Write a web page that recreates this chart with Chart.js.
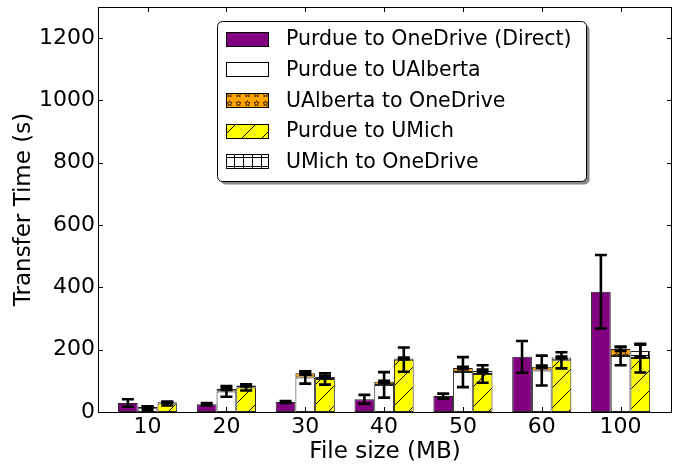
<!DOCTYPE html>
<html><head><meta charset="utf-8">
<script src="https://cdn.jsdelivr.net/npm/chart.js@4/dist/chart.umd.min.js"></script>
<style>html,body{margin:0;padding:0;background:#fff}</style>
</head><body>
<canvas id="c" width="681" height="468"></canvas>
<script>
const categories = ['10','20','30','40','50','60','100'];
const yTicks = [0,200,400,600,800,1000,1200];
const seriesLabels = ['Purdue to OneDrive (Direct)','Purdue to UAlberta','UAlberta to OneDrive','Purdue to UMich','UMich to OneDrive'];
const purdueOneDrive    = [29, 25, 32, 41, 51, 177, 386];
const purdueOneDriveErr = [12, 4, 3, 14, 8, 51, 118];
const purdueUAlberta    = [12, 66, 111, 87, 128, 133, 180];
const purdueUAlbertaErr = [6, 17, 20, 41, 48, 48, 30];
const ualbertaOneDrive    = [4, 8, 13, 10, 13, 12, 22];
const ualbertaOneDriveErr = [2, 3, 4, 3, 4, 4, 6];
const purdueUMich    = [27, 79, 106, 168, 122, 166, 173];
const purdueUMichErr = [6, 10, 18, 39, 28, 26, 46];
const umichOneDrive    = [4, 6, 6, 4, 10, 9, 23];
const umichOneDriveErr = [2, 3, 3, 3, 4, 3, 20];

const FONT = 'DejaVu Sans';

function makePattern(size, bg, draw){
  const c = document.createElement('canvas'); c.width = size; c.height = size;
  const x = c.getContext('2d');
  x.fillStyle = bg; x.fillRect(0,0,size,size);
  draw(x, size);
  return x.createPattern(c, 'repeat');
}
const diagPattern = makePattern(20, '#ffff00', (x,s)=>{
  x.strokeStyle = '#000'; x.lineWidth = 1;
  x.beginPath();
  x.moveTo(-2, s+2); x.lineTo(s+2, -2);
  x.moveTo(-2, 2); x.lineTo(2, -2);
  x.moveTo(s-2, s+2); x.lineTo(s+2, s-2);
  x.stroke();
});
const gridPattern = makePattern(9, '#ffffff', (x,s)=>{
  x.strokeStyle = '#000'; x.lineWidth = 1;
  x.beginPath();
  x.moveTo(0.5, 0); x.lineTo(0.5, s);
  x.moveTo(0, 4.5); x.lineTo(s, 4.5);
  x.stroke();
});
const starPattern = makePattern(9, '#ffa500', (x,s)=>{
  x.strokeStyle = '#000'; x.lineWidth = 0.7;
  const cx = s/2, cy = s/2, R = 2.8, r = 1.2;
  x.beginPath();
  for (let k=0;k<10;k++){
    const a = -Math.PI/2 + k*Math.PI/5;
    const rad = k%2===0 ? R : r;
    const px = cx + rad*Math.cos(a), py = cy + rad*Math.sin(a);
    if (k===0) x.moveTo(px,py); else x.lineTo(px,py);
  }
  x.closePath(); x.stroke();
});

const toXY = arr => arr.map((v,i)=>({x:i, y:v}));
const datasets = [
  {label: seriesLabels[0], data: toXY(purdueOneDrive), err: purdueOneDriveErr, stack:'s1', backgroundColor:'#800080'},
  {label: seriesLabels[1], data: toXY(purdueUAlberta), err: purdueUAlbertaErr, stack:'s2', backgroundColor:'#ffffff'},
  {label: seriesLabels[2], data: toXY(ualbertaOneDrive), err: ualbertaOneDriveErr, stack:'s2', backgroundColor: starPattern},
  {label: seriesLabels[3], data: toXY(purdueUMich), err: purdueUMichErr, stack:'s3', backgroundColor: diagPattern},
  {label: seriesLabels[4], data: toXY(umichOneDrive), err: umichOneDriveErr, stack:'s3', backgroundColor: gridPattern},
].map(d => Object.assign(d, {borderColor:'#222', borderWidth:1, borderSkipped:false, categoryPercentage:0.75, barPercentage:1.0}));

const errorBars = {
  id:'errorBars',
  afterDatasetsDraw(chart){
    const ctx = chart.ctx, ys = chart.scales.y;
    const unit = ys.getPixelForValue(0) - ys.getPixelForValue(1);
    ctx.save();
    ctx.strokeStyle = '#000'; ctx.lineWidth = 2.6; ctx.lineCap = 'butt';
    chart.data.datasets.forEach((ds, di)=>{
      const meta = chart.getDatasetMeta(di);
      meta.data.forEach((el, i)=>{
        const e = ds.err[i] * unit;
        const x = el.x, y = el.y;
        ctx.beginPath();
        ctx.moveTo(x, y-e); ctx.lineTo(x, y+e);
        ctx.moveTo(x-6, y-e); ctx.lineTo(x+6, y-e);
        ctx.moveTo(x-6, y+e); ctx.lineTo(x+6, y+e);
        ctx.stroke();
      });
    });
    ctx.restore();
  }
};

const frameAndLegend = {
  id:'frameAndLegend',
  afterDraw(chart){
    const ctx = chart.ctx, a = chart.chartArea, xs = chart.scales.x, ys = chart.scales.y;
    ctx.save();
    ctx.strokeStyle = '#000'; ctx.lineWidth = 1;
    ctx.strokeRect(Math.round(a.left)+0.5, Math.round(a.top)+0.5, Math.round(a.right-a.left)-1, Math.round(a.bottom-a.top));
    ctx.beginPath();
    yTicks.forEach(v=>{
      const y = Math.round(ys.getPixelForValue(v))+0.5;
      ctx.moveTo(a.left, y); ctx.lineTo(a.left+5, y);
      ctx.moveTo(a.right, y); ctx.lineTo(a.right-5, y);
    });
    categories.forEach((c,i)=>{
      const x = Math.round(xs.getPixelForValue(i))+0.5;
      ctx.moveTo(x, a.bottom); ctx.lineTo(x, a.bottom-5);
      ctx.moveTo(x, a.top); ctx.lineTo(x, a.top+5);
    });
    ctx.stroke();

    // legend
    const L = 217.5, T = 21.5, W = 369, H = 160, R = 5;
    function rr(x,y,w,h,r){ctx.beginPath();ctx.moveTo(x+r,y);ctx.lineTo(x+w-r,y);ctx.arcTo(x+w,y,x+w,y+r,r);ctx.lineTo(x+w,y+h-r);ctx.arcTo(x+w,y+h,x+w-r,y+h,r);ctx.lineTo(x+r,y+h);ctx.arcTo(x,y+h,x,y+h-r,r);ctx.lineTo(x,y+r);ctx.arcTo(x,y,x+r,y,r);ctx.closePath();}
    ctx.fillStyle = '#888';
    rr(L+3, T+3, W, H, R); ctx.fill();
    ctx.fillStyle = '#fff';
    rr(L, T, W, H, R); ctx.fill();
    ctx.strokeStyle = '#000'; ctx.lineWidth = 1; ctx.stroke();
    ctx.font = '20.5px "' + FONT + '"';
    ctx.textBaseline = 'middle'; ctx.textAlign = 'left';
    chart.data.datasets.forEach((ds, i)=>{
      const cy = 39 + i*30.7;
      ctx.fillStyle = ds.backgroundColor;
      ctx.fillRect(226, Math.round(cy-7.5), 43, 15);
      ctx.strokeStyle = '#000'; ctx.lineWidth = 1;
      ctx.strokeRect(226.5, Math.round(cy-7.5)+0.5, 42, 14);
      ctx.fillStyle = '#000';
      ctx.fillText(ds.label, 286, cy+1);
    });
    ctx.restore();
  }
};

new Chart(document.getElementById('c'), {
  type:'bar',
  data:{datasets},
  options:{
    responsive:false, animation:false,
    layout:{padding:{left:0, right:9, top:7, bottom:0}},
    plugins:{legend:{display:false}, tooltip:{enabled:false}},
    scales:{
      x:{
        type:'linear', stacked:true, min:-0.629, max:6.652, offset:false,
        afterBuildTicks: s => { s.ticks = categories.map((c,i)=>({value:i})); },
        afterFit: s => { s.height = 56; s.paddingLeft = 0; s.paddingRight = 0; },
        grid:{display:false, drawTicks:false}, border:{display:false},
        ticks:{autoSkip:false, maxRotation:0, padding:2, color:'#000', font:{family:FONT, size:22},
          callback: v => categories[v] ?? ''},
        title:{display:true, text:'File size (MB)', color:'#000', font:{family:FONT, size:23}, padding:{top:0, bottom:2}}
      },
      y:{
        stacked:true, min:0, max:1300,
        afterBuildTicks: s => { s.ticks = yTicks.map(v=>({value:v})); },
        afterFit: s => { s.width = 98; s.paddingTop = 0; s.paddingBottom = 0; },
        grid:{display:false, drawTicks:false}, border:{display:false},
        ticks:{padding:3, color:'#000', font:{family:FONT, size:22}, callback: v => String(v)},
        title:{display:true, text:'Transfer Time (s)', color:'#000', font:{family:FONT, size:23}, padding:{top:10, bottom:0}}
      }
    }
  },
  plugins:[errorBars, frameAndLegend]
});
</script>
</body></html>
